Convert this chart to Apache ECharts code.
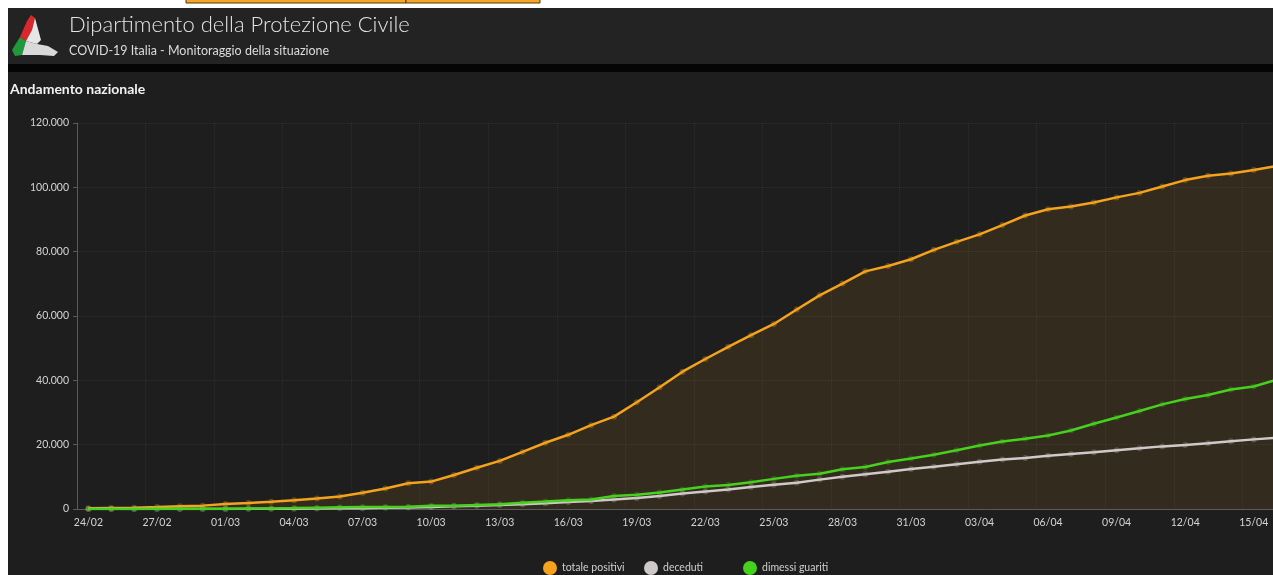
<!DOCTYPE html>
<html>
<head>
<meta charset="utf-8">
<script src="https://cdn.jsdelivr.net/npm/echarts@6/dist/echarts.min.js"></script>
<style>
html,body{margin:0;padding:0;background:#fff;overflow:hidden;}
#c{width:1300px;height:575px;}
</style>
</head>
<body>
<div id="c"></div>
<script>
const dates = ['24/02','25/02','26/02','27/02','28/02','29/02','01/03','02/03','03/03','04/03','05/03','06/03','07/03','08/03','09/03','10/03','11/03','12/03','13/03','14/03','15/03','16/03','17/03','18/03','19/03','20/03','21/03','22/03','23/03','24/03','25/03','26/03','27/03','28/03','29/03','30/03','31/03','01/04','02/04','03/04','04/04','05/04','06/04','07/04','08/04','09/04','10/04','11/04','12/04','13/04','14/04','15/04','16/04'];
const totalePositivi = [221,311,385,588,821,1049,1577,1835,2263,2706,3296,3916,5061,6387,7985,8514,10590,12839,14955,17750,20603,23073,26062,28710,33190,37860,42681,46638,50418,54030,57521,62013,66414,70065,73880,75528,77635,80572,83049,85388,88274,91246,93187,94067,95262,96877,98273,100269,102253,103616,104291,105418,106607];
const deceduti = [7,10,12,17,21,29,34,52,79,107,148,197,233,366,463,631,827,1016,1266,1441,1809,2158,2503,2978,3405,4032,4825,5476,6077,6820,7503,8165,9134,10023,10779,11591,12428,13155,13915,14681,15362,15887,16523,17127,17669,18279,18849,19468,19899,20465,21067,21645,22170];
const dimessiGuariti = [1,1,3,45,46,50,83,149,160,276,414,523,589,622,724,1004,1045,1258,1439,1966,2335,2749,2941,4025,4440,5129,6072,7024,7432,8326,9362,10361,10950,12384,13030,14620,15729,16847,18278,19758,20996,21815,22837,24392,26491,28470,30455,32534,34211,35435,37130,38092,40164];
const seriesNames = ['totale positivi','deceduti','dimessi guariti'];
const yTicks = [0,20000,40000,60000,80000,100000,120000];

const COLORS = ['#f5a21c','#cfc9c9','#46d11e'];
const FONT = 'Lato, "Open Sans", sans-serif';
const fmt = v => String(v).replace(/\B(?=(\d{3})+(?!\d))/g,'.');

const legendBase = {icon:'circle',itemWidth:14,itemHeight:14,top:556,itemGap:0,
  textStyle:{color:'#d0d0d0',fontSize:10.5,fontFamily:FONT},itemStyle:{opacity:1}};

const chart = echarts.init(document.getElementById('c'));
chart.setOption({
  animation:false,
  backgroundColor:'transparent',
  textStyle:{fontFamily:FONT},
  graphic:[
    {type:'rect',shape:{x:186,y:-3,width:220,height:6},style:{fill:'#f5a623',stroke:'#4a3a10',lineWidth:1}},
    {type:'rect',shape:{x:406,y:-3,width:134,height:6},style:{fill:'#f5a623',stroke:'#4a3a10',lineWidth:1}},
    {type:'rect',shape:{x:8,y:8,width:1300,height:56},style:{fill:'#232323'},z:-10},
    {type:'rect',shape:{x:8,y:64,width:1300,height:8},style:{fill:'#050505'},z:-10},
    {type:'rect',shape:{x:8,y:72,width:1300,height:510},style:{fill:'#1e1e1e'},z:-10},
    // logo
    {type:'polygon',shape:{points:[[12,50],[20,37],[26,41],[22,55],[15,56]]},style:{fill:'#1f9a3a'}},
    {type:'polygon',shape:{points:[[20,37],[27,21],[31,15],[35,18],[32,30],[26,41]]},style:{fill:'#d8282e'}},
    {type:'polygon',shape:{points:[[26,41],[32,30],[35,18],[38,29],[41,40],[37,44]]},style:{fill:'#e6e6e6'}},
    {type:'polygon',shape:{points:[[22,55],[26,41],[37,44],[48,46],[58,52],[54,56],[40,55]]},style:{fill:'#d9d9d9'}},
    {type:'text',left:69,top:14,style:{text:'Dipartimento della Protezione Civile',fill:'#e4e4e4',font:'300 22px '+FONT}},
    {type:'text',left:69,top:44,style:{text:'COVID-19 Italia - Monitoraggio della situazione',fill:'#dcdcdc',font:'12.5px '+FONT}},
    {type:'text',left:10,top:82,style:{text:'Andamento nazionale',fill:'#f2f2f2',font:'bold 14px '+FONT}}
  ],
  grid:{left:77,top:123,width:1211,height:386,containLabel:false},
  legend:[
    Object.assign({data:[seriesNames[0]],left:538},legendBase),
    Object.assign({data:[seriesNames[1]],left:639},legendBase),
    Object.assign({data:[seriesNames[2]],left:738},legendBase)
  ],
  xAxis:{
    type:'category',data:dates,boundaryGap:true,
    axisLine:{lineStyle:{color:'#5a5a5a'}},
    axisTick:{interval:2,alignWithLabel:true,lineStyle:{color:'#5a5a5a'},length:4},
    axisLabel:{interval:2,color:'#d4d4d4',fontSize:10.5,fontFamily:FONT,margin:8},
    splitLine:{show:true,interval:2,lineStyle:{color:'rgba(255,255,255,0.07)',type:'dotted'}}
  },
  yAxis:{
    type:'value',min:yTicks[0],max:yTicks[yTicks.length-1],interval:20000,
    axisLine:{show:true,lineStyle:{color:'#5a5a5a'}},
    axisTick:{show:true,length:4,lineStyle:{color:'#5a5a5a'}},
    axisLabel:{color:'#d4d4d4',fontSize:10.5,fontFamily:FONT,margin:8,formatter:v=>fmt(v)},
    splitLine:{lineStyle:{color:'rgba(255,255,255,0.07)',type:'dotted'}}
  },
  series:[
    {name:seriesNames[0],type:'line',data:totalePositivi,color:COLORS[0],symbol:'circle',symbolSize:6,
     itemStyle:{color:COLORS[0],opacity:0.3},lineStyle:{color:COLORS[0],width:2.5},
     areaStyle:{color:'rgba(245,162,28,0.14)'},z:2},
    {name:seriesNames[1],type:'line',data:deceduti,color:COLORS[1],symbol:'circle',symbolSize:6,
     itemStyle:{color:COLORS[1],opacity:0.25},lineStyle:{color:COLORS[1],width:2.5},z:3},
    {name:seriesNames[2],type:'line',data:dimessiGuariti,color:COLORS[2],symbol:'circle',symbolSize:6,
     itemStyle:{color:COLORS[2],opacity:0.25},lineStyle:{color:COLORS[2],width:2.5},z:4}
  ]
});
</script>
</body>
</html>
